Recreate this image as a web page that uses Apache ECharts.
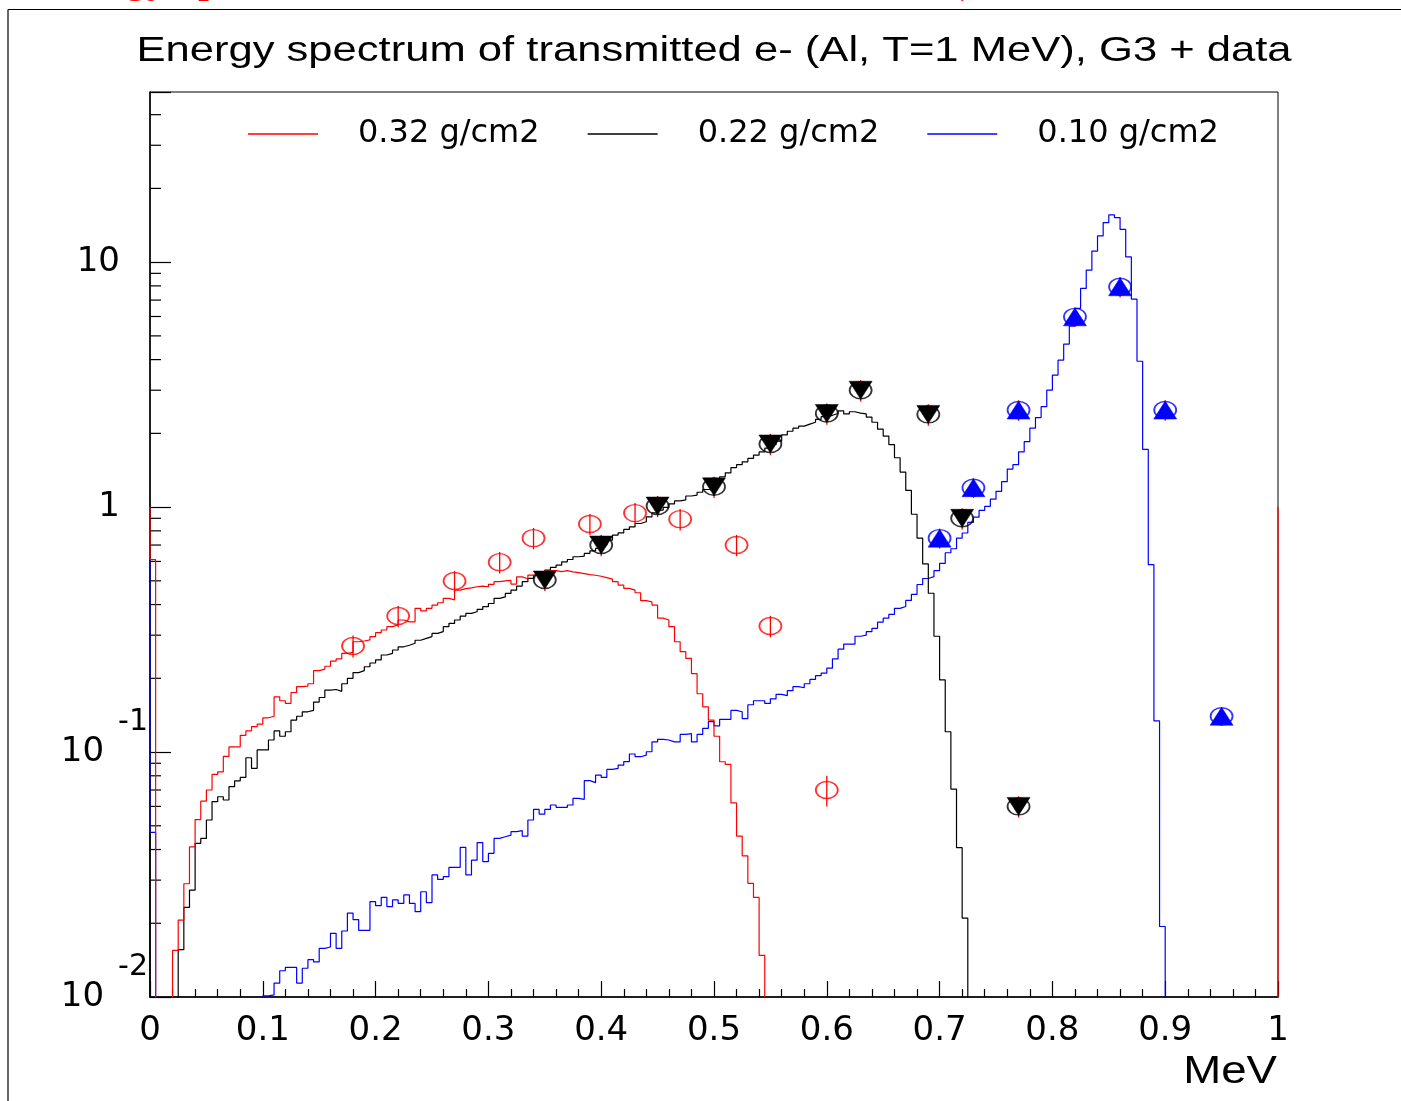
<!DOCTYPE html>
<html><head><meta charset="utf-8">
<script src="https://cdn.jsdelivr.net/npm/echarts@6/dist/echarts.min.js"></script>
<style>html,body{margin:0;padding:0;background:#fff}#c{width:1401px;height:1101px}</style>
</head><body><div id="c"></div>
<script>
// ---- data ----
const binWidth = 0.005;
const nBins = 200;
// histogram bin contents (bin i covers [i*0.005, (i+1)*0.005]); bins not listed are empty
const redBins = [0.61,0,0,0,0.0155,0.0206,0.029,0.041,0.053,0.063,0.070,0.081,0.083,0.096,0.105,0.105,0.117,0.122,0.127,0.130,
0.138,0.140,0.168,0.162,0.158,0.175,0.185,0.186,0.190,0.215,0.218,0.224,0.235,0.240,0.253,0.255,0.282,0.284,0.287,0.296,
0.307,0.315,0.325,0.330,0.346,0.340,0.340,0.386,0.377,0.386,0.398,0.407,0.424,0.418,0.458,0.465,0.468,0.473,0.476,0.473,
0.484,0.496,0.500,0.502,0.485,0.519,0.510,0.528,0.530,0.528,0.535,0.550,0.545,0.550,0.544,0.540,0.535,0.530,0.527,0.522,
0.515,0.508,0.496,0.480,0.466,0.458,0.447,0.415,0.410,0.398,0.352,0.346,0.325,0.282,0.257,0.241,0.209,0.173,0.153,0.135,
0.116,0.0913,0.089,0.062,0.0454,0.0377,0.0291,0.0255,0.0148];
const blackBins = [0,0,0,0,0,0.0156,0.0232,0.0273,0.0424,0.0444,0.0528,0.0627,0.0657,0.0637,0.0722,0.0762,0.0788,0.0948,0.0857,0.102,
0.102,0.112,0.122,0.116,0.121,0.135,0.140,0.146,0.148,0.160,0.167,0.179,0.180,0.177,0.190,0.200,0.211,0.215,0.223,0.231,
0.238,0.249,0.253,0.261,0.269,0.273,0.278,0.286,0.291,0.296,0.305,0.310,0.325,0.335,0.346,0.359,0.368,0.374,0.382,0.392,
0.404,0.424,0.430,0.444,0.458,0.476,0.496,0.512,0.527,0.539,0.553,0.567,0.580,0.598,0.611,0.627,0.631,0.647,0.663,0.678,
0.700,0.733,0.769,0.785,0.811,0.831,0.857,0.871,0.913,0.948,0.972,0.997,1.03,1.06,1.07,1.11,1.12,1.15,1.18,1.19,
1.27,1.33,1.38,1.45,1.49,1.53,1.58,1.63,1.68,1.74,1.80,1.86,1.97,2.04,2.10,2.14,2.18,2.22,2.28,2.34,
2.37,2.41,2.47,2.40,2.45,2.42,2.40,2.33,2.22,2.08,1.95,1.80,1.59,1.39,1.17,0.935,0.747,0.586,0.445,0.297,
0.197,0.121,0.0706,0.0407,0.021];
const blueBins = [0.047,0,0,0,0,0,0,0,0,0,0,0,0,0,0,0,0,0,0,0,
0.0101,0.0102,0.0114,0.0128,0.0132,0.0132,0.0114,0.0131,0.0142,0.0139,0.0158,0.0160,0.0182,0.0158,0.0186,0.0220,0.0207,0.0187,0.0187,0.0245,
0.0236,0.0255,0.0234,0.0249,0.0241,0.0261,0.0241,0.0223,0.0269,0.0243,0.0315,0.0302,0.0310,0.0338,0.0338,0.0408,0.0315,0.0362,0.0427,0.0357,
0.0386,0.0444,0.0451,0.0458,0.0473,0.0478,0.0454,0.0528,0.0583,0.0558,0.0583,0.0608,0.0595,0.0595,0.0608,0.0647,0.0641,0.0764,0.0750,0.0805,
0.0788,0.0849,0.0857,0.0885,0.0914,0.0982,0.0957,0.0972,0.1003,0.110,0.1127,0.112,0.110,0.110,0.118,0.119,0.110,0.118,0.125,0.133,
0.128,0.136,0.136,0.148,0.146,0.137,0.156,0.162,0.162,0.158,0.165,0.172,0.170,0.178,0.185,0.183,0.190,0.198,0.205,0.210,
0.220,0.240,0.263,0.276,0.276,0.297,0.300,0.310,0.320,0.339,0.352,0.365,0.386,0.393,0.416,0.440,0.483,0.511,0.520,0.550,
0.589,0.651,0.676,0.747,0.784,0.867,0.910,0.970,1.007,1.077,1.16,1.27,1.43,1.49,1.68,1.85,2.10,2.32,2.57,3.00,
3.46,3.98,4.63,5.48,6.47,7.81,9.27,11.1,12.8,14.5,15.6,15.2,13.6,10.5,7.06,3.94,1.72,0.582,0.134,0.0194];
// level at which each outline starts (x = 0) and ends (x = 1)
const redStart = 1.0, redEnd = 1.0;
const blackStart = 0.047, blackEnd = 0;
const blueStart = 0.61, blueEnd = 0;

// measured data points
const redPtsX = [0.18,0.22,0.27,0.31,0.34,0.39,0.43,0.47,0.52,0.55,0.60];
const redPtsY = [0.271,0.359,0.499,0.596,0.747,0.853,0.945,0.893,0.70,0.327,0.070];
const redPtsErr = [0.028,0.036,0.050,0.060,0.075,0.085,0.095,0.090,0.070,0.033,0.010];
const blackPtsX = [0.35,0.40,0.45,0.50,0.55,0.60,0.63,0.69,0.72,0.77];
const blackPtsY = [0.504,0.70,1.01,1.21,1.81,2.41,3.0,2.39,0.90,0.060];
const blackPtsErr = [0.05,0.07,0.10,0.12,0.18,0.24,0.30,0.24,0.09,0.006];
const bluePtsX = [0.70,0.73,0.77,0.82,0.86,0.90,0.95];
const bluePtsY = [0.747,1.20,2.49,5.98,7.93,2.49,0.140];
const bluePtsErr = [0.07,0.11,0.24,0.55,0.75,0.24,0.012];

const seriesNames = ['0.32 g/cm2','0.22 g/cm2','0.10 g/cm2'];
const xTickLabels = ['0','0.1','0.2','0.3','0.4','0.5','0.6','0.7','0.8','0.9','1'];
const yMinorTicks = [0.02,0.03,0.04,0.05,0.06,0.07,0.08,0.09,0.2,0.3,0.4,0.5,0.6,0.7,0.8,0.9,2,3,4,5,6,7,8,9,20,30,40];
const titleText = 'Energy spectrum of transmitted e- (Al, T=1 MeV), G3 + data';
const xAxisTitle = 'MeV';
// page text above the canvas, cut off by the top edge
const clippedHeadLeft = 'Energy spectrum';
const clippedHeadRight = ')';

// ---- build ----
const Y_MIN = 0.01, Y_MAX = 49.5, DRAW_FLOOR = 0.0097;
function clampV(v){ return v > Y_MIN ? v : DRAW_FLOOR; }
function steps(bins, start, end){
  const pts = [[0, clampV(start)]];
  for (let i = 0; i < nBins; i++) {
    const v = clampV(i < bins.length ? bins[i] : 0);
    pts.push([+(i*binWidth).toFixed(4), v]);
    pts.push([+((i+1)*binWidth).toFixed(4), v]);
  }
  pts.push([1, clampV(end)]);
  return pts;
}
function pts(xs, ys){ return xs.map((x,i)=>[x, ys[i]]); }
function errs(xs, ys, es){ return xs.map((x,i)=>[x, ys[i]-es[i], ys[i]+es[i]]); }

const ellipse = 'path://M0,8.5A10.5,8.5,0,1,1,21,8.5A10.5,8.5,0,1,1,0,8.5Z';
const FONT = 'DejaVu Sans';

function histSeries(name, bins, s, e, color, z){
  return {type:'line', name, data: steps(bins, s, e), showSymbol:false, symbol:'none',
    lineStyle:{color, width:1.2}, itemStyle:{color}, clip:true, z, animation:false};
}
function errSeries(data){
  return {type:'custom', data, z:5, animation:false, silent:true,
    renderItem(params, api){
      const a = api.coord([api.value(0), api.value(1)]);
      const b = api.coord([api.value(0), api.value(2)]);
      return {type:'line', shape:{x1:a[0], y1:a[1], x2:b[0], y2:b[1]}, style:{stroke:'#ff0000', lineWidth:1.3}};
    }};
}
function ringSeries(data, color){
  return {type:'scatter', data, symbol: ellipse, symbolSize:[22,17], z:6, animation:false, silent:true,
    itemStyle:{color:'rgba(0,0,0,0)', borderColor:color, borderWidth:1.6}};
}
function triSeries(data, color, rot){
  return {type:'scatter', data, symbol:'triangle', symbolSize:[23,18], symbolRotate:rot, z:7, animation:false, silent:true,
    itemStyle:{color, opacity:1, borderColor:color, borderWidth:0.5}};
}

const chart = echarts.init(document.getElementById('c'));
chart.setOption({
  animation:false,
  backgroundColor:'#fff',
  grid:{left:150, right:123, top:92, bottom:104, show:true, borderColor:'#000', borderWidth:1, backgroundColor:'transparent'},
  legend:{data:seriesNames, left:243, top:112, icon:'rect', itemWidth:70, itemHeight:1.3, itemGap:48, selectedMode:false,
    textStyle:{fontFamily:FONT, fontSize:32, color:'#000', lineHeight:34, padding:[0,0,0,35]}},
  xAxis:{type:'value', min:0, max:1, interval:0.1,
    axisLine:{lineStyle:{color:'#000', width:1.5}},
    axisTick:{inside:true, length:16, lineStyle:{color:'#000', width:1.2}},
    minorTick:{show:true, splitNumber:5, length:8, lineStyle:{color:'#000', width:1.2}},
    splitLine:{show:false},
    axisLabel:{fontFamily:FONT, fontSize:34, color:'#000', margin:17,
      formatter:(v)=>{ const i = Math.round(v*10); return xTickLabels[i] !== undefined ? xTickLabels[i] : ''; }}},
  yAxis:{type:'log', logBase:10, min:Y_MIN, max:Y_MAX,
    axisLine:{lineStyle:{color:'#000', width:1.5}},
    axisTick:{inside:true, length:21, lineStyle:{color:'#000', width:1.2}},
    minorTick:{show:false}, splitLine:{show:false},
    axisLabel:{margin:2, color:'#000', fontFamily:FONT,
      formatter:(v)=>{
        const l = Math.log10(v), e = Math.round(l);
        if (Math.abs(l-e) > 1e-6) return '';
        if (e === 0) return '{n|1}';
        if (e === 1) return '{n|10}';
        return '{b|10}{s|' + e + '}';
      },
      rich:{
        n:{fontFamily:FONT, fontSize:34, lineHeight:34, padding:[0,28,0,0], color:'#000'},
        b:{fontFamily:FONT, fontSize:34, lineHeight:34, padding:[30,0,30,0], color:'#000'},
        s:{fontFamily:FONT, fontSize:30, lineHeight:34, padding:[0,0,60,14], color:'#000'}
      }}},
  graphic:[
    {type:'text', x:40, y:-42, silent:true,
      style:{text:clippedHeadLeft, fontFamily:'Liberation Serif', fontSize:45, fill:'#ff0000', textAlign:'left', textVerticalAlign:'top'}},
    {type:'text', x:975, y:-42, silent:true,
      style:{text:clippedHeadRight, fontFamily:'Liberation Serif', fontSize:45, fill:'#ff0000', textAlign:'right', textVerticalAlign:'top'}},
    {type:'line', shape:{x1:8, y1:9.5, x2:1401, y2:9.5}, style:{stroke:'#000', lineWidth:1.2}, silent:true},
    {type:'line', shape:{x1:8, y1:9.5, x2:8, y2:1101}, style:{stroke:'#000', lineWidth:1.2}, silent:true},
    {type:'text', x:714, y:51, scaleX:1.245, silent:true,
      style:{text:titleText, fontFamily:'Liberation Sans', fontSize:35, fill:'#000', textAlign:'center', textVerticalAlign:'middle'}},
    {type:'text', x:1277, y:1073, scaleX:1.2, silent:true,
      style:{text:xAxisTitle, fontFamily:'Liberation Sans', fontSize:38, fill:'#000', textAlign:'right', textVerticalAlign:'middle'}}
  ],
  series:[
    histSeries(seriesNames[2], blueBins, blueStart, blueEnd, '#0000ff', 2),
    histSeries(seriesNames[1], blackBins, blackStart, blackEnd, '#000000', 3),
    histSeries(seriesNames[0], redBins, redStart, redEnd, '#ff0000', 4),
    {type:'custom', data:yMinorTicks.map(v=>[0,v]), z:3, animation:false, silent:true,
      renderItem(params, api){
        const p = api.coord([0, api.value(1)]);
        return {type:'line', shape:{x1:p[0], y1:p[1], x2:p[0]+11, y2:p[1]}, style:{stroke:'#000', lineWidth:1.2}};
      }},
    errSeries(errs(redPtsX, redPtsY, redPtsErr)),
    errSeries(errs(blackPtsX, blackPtsY, blackPtsErr)),
    errSeries(errs(bluePtsX, bluePtsY, bluePtsErr)),
    ringSeries(pts(redPtsX, redPtsY), '#ff0000'),
    ringSeries(pts(blackPtsX, blackPtsY), '#000000'),
    triSeries(pts(blackPtsX, blackPtsY), '#000000', 180),
    ringSeries(pts(bluePtsX, bluePtsY), '#0000ff'),
    triSeries(pts(bluePtsX, bluePtsY), '#0000ff', 0)
  ]
});
</script></body></html>
